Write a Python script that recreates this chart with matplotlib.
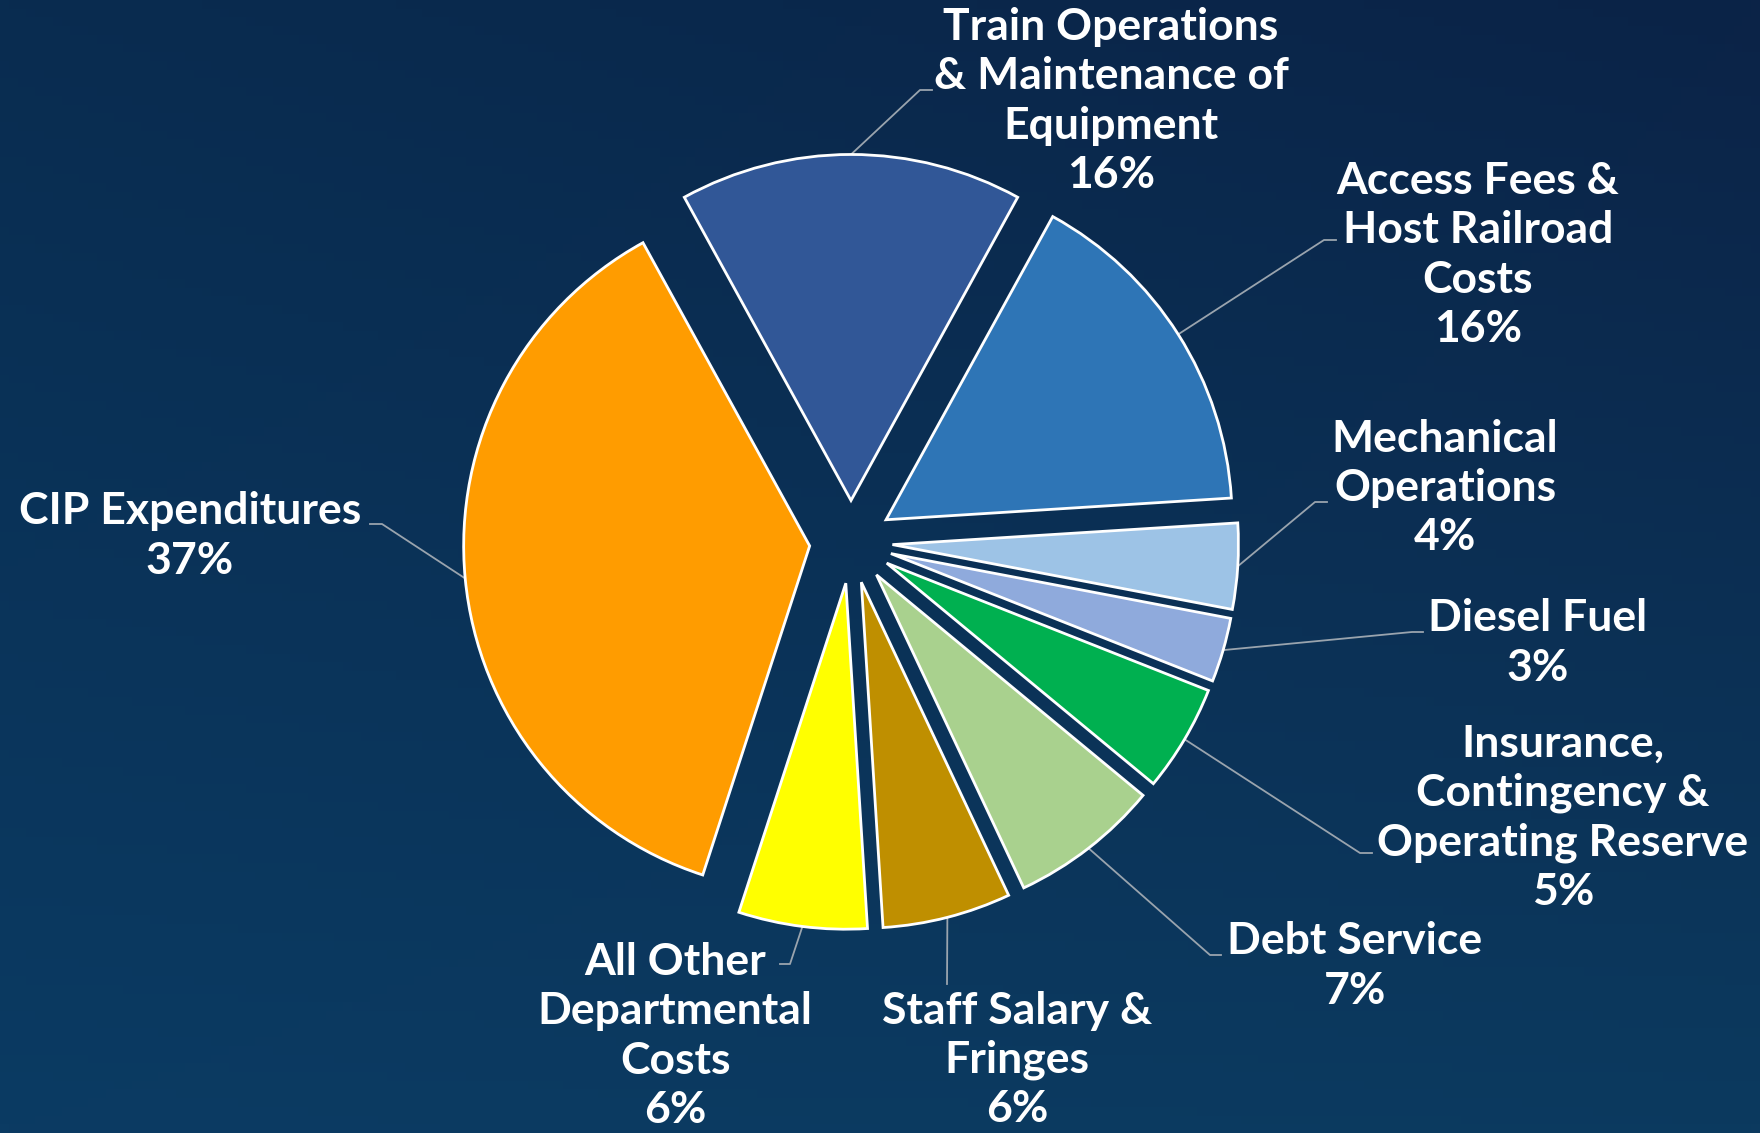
import numpy as np
import matplotlib
matplotlib.use("Agg")
import matplotlib.pyplot as plt
from matplotlib.colors import to_rgb

plt.rcParams['font.family'] = ['Lato', 'DejaVu Sans']

# data
labels = ["Train Operations\n& Maintenance of\nEquipment",
          "Access Fees &\nHost Railroad\nCosts",
          "Mechanical\nOperations",
          "Diesel Fuel",
          "Insurance,\nContingency &\nOperating Reserve",
          "Debt Service",
          "Staff Salary &\nFringes",
          "All Other\nDepartmental\nCosts",
          "CIP Expenditures"]
shares = [16, 16, 4, 3, 5, 7, 6, 6, 37]
colors = ["#315797", "#2e75b6", "#9dc3e6", "#8faadc", "#00b050",
          "#a9d18e", "#bf8f00", "#ffff00", "#ff9c00"]

# layout (pixels, measured from top-left of the picture)
W, H = 1760, 1133
pie_center = (851, 542)
pie_radius = 346
label_pos = [(1111, 101), (1478, 255), (1445, 488), (1538, 643), (1563, 818),
             (1355, 966), (1017, 1060), (675, 1036), (190, 536)]
elbow = [(920, 90), (1324, 240), (1315, 502), (1412, 632), (1360, 853),
         (1210, 955), (947, 984), (790, 964), (382, 524)]
line_end = [(932, 90), (1336, 240), (1327, 502), (1423, 632), (1372, 853),
            (1221, 955), (947, 984), (780, 964), (370, 524)]

fig = plt.figure(figsize=(W / 100, H / 100), dpi=100)
ax = fig.add_axes([0, 0, 1, 1])

# background gradient from four corner colours
tl, tr = np.array(to_rgb("#092c50")), np.array(to_rgb("#0b2347"))
bl, br = np.array(to_rgb("#0b3b63")), np.array(to_rgb("#0c3a5f"))
u = np.linspace(0, 1, 200)[None, :, None]
v = np.linspace(0, 1, 130)[:, None, None]
bg = (1 - v) * ((1 - u) * tl + u * tr) + v * ((1 - u) * bl + u * br)
ax.imshow(bg, extent=(0, W, 0, H), origin="upper", aspect="auto", zorder=0)

start = 90 + shares[0] / sum(shares) * 360 / 2
# explode is in data units here, so scale it by the radius
wedges, _ = ax.pie(shares, colors=colors, startangle=start, counterclock=False,
                   explode=[0.12 * pie_radius] * len(shares), radius=pie_radius,
                   center=(pie_center[0], H - pie_center[1]),
                   wedgeprops=dict(edgecolor="white", linewidth=2, zorder=3))

for w, lab, val, (lx, ly), (ex, ey), (qx, qy) in zip(wedges, labels, shares,
                                                    label_pos, elbow, line_end):
    mid = np.deg2rad((w.theta1 + w.theta2) / 2)
    sx = w.center[0] + w.r * np.cos(mid)
    sy = w.center[1] + w.r * np.sin(mid)
    ax.plot([sx, ex, qx], [sy, H - ey, H - qy], color="#9aa4ae", lw=1.3, zorder=2)
    ax.text(lx, H - ly, f"{lab}\n{val}%", ha="center", va="center",
            color="white", fontsize=32, fontweight="bold", linespacing=1.28, zorder=4)

ax.set_xlim(0, W)
ax.set_ylim(0, H)
ax.set_aspect("auto")
ax.axis("off")

fig.savefig("out.png", dpi=100)
